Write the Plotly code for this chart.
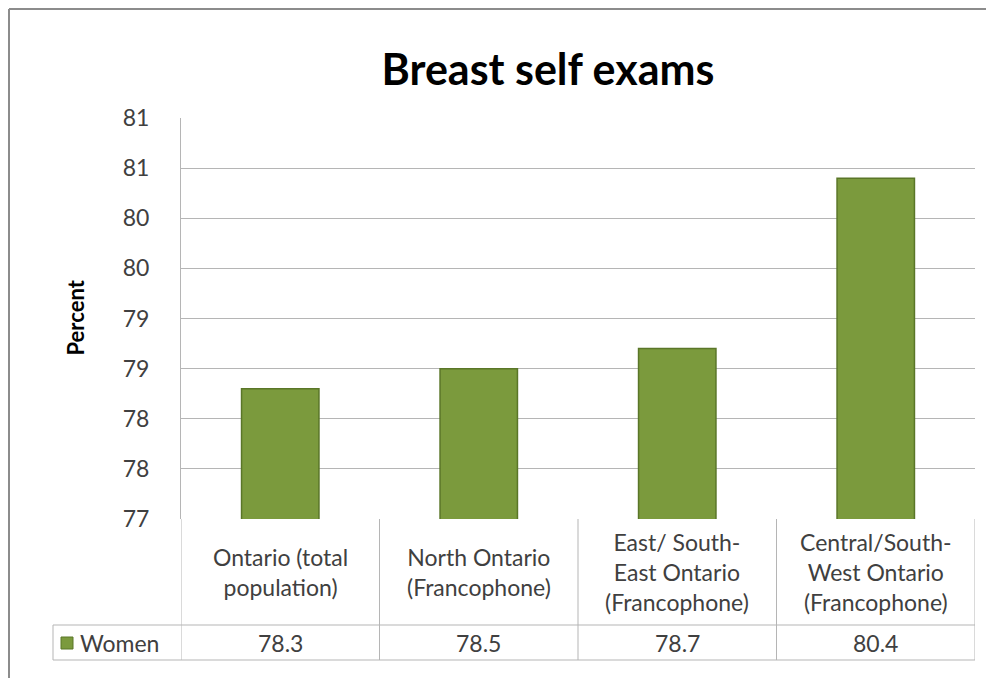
import plotly.graph_objects as go

categories = ["Ontario (total<br>population)", "North Ontario<br>(Francophone)",
              "East/ South-<br>East Ontario<br>(Francophone)",
              "Central/South-<br>West Ontario<br>(Francophone)"]
women = [78.3, 78.5, 78.7, 80.4]
tick_vals = [77, 77.5, 78, 78.5, 79, 79.5, 80, 80.5, 81]
tick_text = ["77", "78", "78", "79", "79", "80", "80", "81", "81"]
series_name = "Women"

# page body has an 8px margin, so the figure sits at (8, 8) in the window
OFF = 8
W, H = 994 - OFF, 678 - OFF
L, R, T, B = 181, 975, 118, 519  # plot area, window pixels


def px_x(p):
    return (p - L) / (R - L)


def px_y(p):
    return (B - p) / (B - T)


FONT = "Lato, Calibri, sans-serif"
TXT = "#404040"
GRID = "#b5b5b5"
GREEN = "#7b9a3d"
DARK = "#5a7628"

fig = go.Figure(go.Bar(
    x=list(range(len(women))), y=women, width=0.39,
    marker=dict(color=GREEN, line=dict(color=DARK, width=1.5)),
    showlegend=False,
))

shapes = []
# outer chart frame (top and left edges are the visible ones)
frame = dict(color="#8c8c8c", width=2)
shapes.append(dict(type="line", xref="paper", yref="paper",
                   x0=px_x(9), x1=px_x(994), y0=px_y(9), y1=px_y(9), line=frame))
shapes.append(dict(type="line", xref="paper", yref="paper",
                   x0=px_x(9), x1=px_x(9), y0=px_y(9), y1=px_y(700), line=frame))
# data table grid
row1, row2 = px_y(625), px_y(660)
for i in range(len(women) + 1):
    shapes.append(dict(type="line", xref="x", yref="paper", x0=i - 0.5, x1=i - 0.5,
                       y0=row2, y1=0, line=dict(color=GRID, width=1)))
for yy in (row1, row2):
    shapes.append(dict(type="line", xref="paper", yref="paper", x0=px_x(53), x1=1,
                       y0=yy, y1=yy, line=dict(color=GRID, width=1)))
shapes.append(dict(type="line", xref="paper", yref="paper", x0=px_x(53), x1=px_x(53),
                   y0=row2, y1=row1, line=dict(color=GRID, width=1)))
# legend key
shapes.append(dict(type="rect", xref="paper", yref="paper",
                   x0=px_x(61), x1=px_x(73), y0=px_y(649), y1=px_y(637),
                   fillcolor=GREEN, line=dict(color=DARK, width=1)))

annotations = []
for i, (c, v) in enumerate(zip(categories, women)):
    annotations.append(dict(x=i, y=px_y(572), xref="x", yref="paper", text=c,
                            showarrow=False, yanchor="middle",
                            font=dict(family=FONT, size=23, color=TXT)))
    annotations.append(dict(x=i, y=px_y(643), xref="x", yref="paper", text=f"{v}",
                            showarrow=False, yanchor="middle",
                            font=dict(family=FONT, size=23, color=TXT)))
annotations.append(dict(x=px_x(78), y=px_y(643), xref="paper", yref="paper",
                        text=series_name, showarrow=False, xanchor="left", yanchor="middle",
                        font=dict(family=FONT, size=23, color=TXT)))
annotations.append(dict(x=px_x(59), y=px_y(318), xref="paper", yref="paper",
                        text="<b>Percent</b>", textangle=-90, showarrow=False,
                        font=dict(family=FONT, size=22, color="#000000")))

fig.update_layout(
    width=W, height=H,
    margin=dict(l=L - OFF, r=W - (R - OFF), t=T - OFF, b=H - (B - OFF)),
    paper_bgcolor="white", plot_bgcolor="white",
    title=dict(text="<b>Breast self exams</b>", x=(548 - OFF) / W, xanchor="center",
               y=1 - (70 - OFF) / H, yanchor="middle",
               font=dict(family=FONT, size=43, color="#000000")),
    shapes=shapes, annotations=annotations,
)
fig.update_xaxes(range=[-0.5, 3.5], showticklabels=False, showgrid=False,
                 zeroline=False, showline=False, automargin=False, fixedrange=True)
fig.update_yaxes(range=[77, 81], tickvals=tick_vals, ticktext=tick_text,
                 showgrid=True, gridcolor=GRID, gridwidth=1, zeroline=False,
                 showline=True, linecolor=GRID, linewidth=1,
                 ticks="", ticklabelstandoff=26, automargin=False,
                 tickfont=dict(family=FONT, size=23, color=TXT))

fig.write_html("out.html")
